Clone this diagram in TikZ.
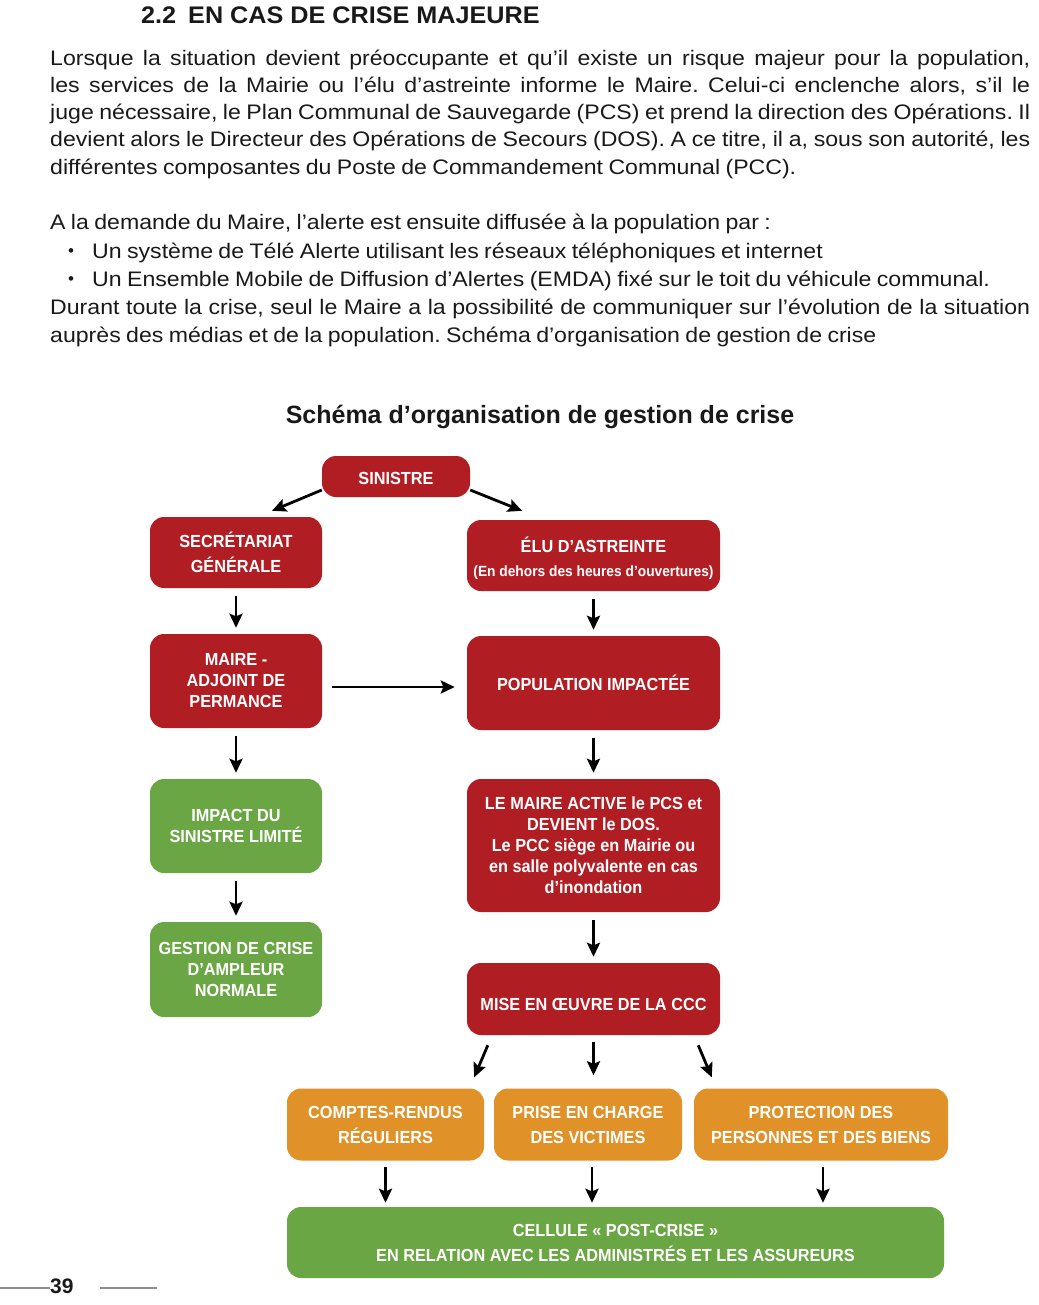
\documentclass[tikz,border=0pt]{standalone}
\usepackage{fontspec}
\setmainfont{Liberation Sans}
\newfontfamily\blkfont{Liberation Sans}[FakeStretch=0.93]
\newfontfamily\txtfont{Liberation Sans}[FakeStretch=1.10, WordSpace=0.84]
\newfontfamily\headfont{Liberation Sans}[FakeStretch=1.05]
\usetikzlibrary{arrows.meta, positioning, calc}
\definecolor{crisered}{RGB}{176,30,36}
\definecolor{crisegreen}{RGB}{106,166,68}
\definecolor{criseorange}{RGB}{224,145,40}
\definecolor{pagegray}{RGB}{140,140,140}
\definecolor{bodytext}{RGB}{25,25,25}
\newcommand{\jline}[1]{\makebox[980pt][s]{#1}}
\frenchspacing

\begin{document}
\begin{tikzpicture}[x=1pt, y=-1pt,
    blk/.style={rounded corners=14pt, text=white, align=center, inner sep=0pt,
                font=\blkfont\bfseries\fontsize{17.5}{21}\selectfont},
    loose/.style={font=\blkfont\bfseries\fontsize{17.5}{25}\selectfont},
    redblk/.style={blk, fill=crisered},
    greenblk/.style={blk, fill=crisegreen},
    orangeblk/.style={blk, fill=criseorange},
    txt/.style={anchor=base west, inner sep=0pt, text=bodytext,
                font=\txtfont\fontsize{21}{27}\selectfont},
    arr/.style={-{Stealth[length=14pt, width=13pt, inset=2.5pt]}, line width=2.8pt,
                shorten <=8pt, shorten >=6pt}
  ]
    \useasboundingbox (0,0) rectangle (1038,1305);

    % texte
    \node[txt, font=\headfont\bfseries\fontsize{24}{28}\selectfont] (head) at (141,24)
      {2.2\hspace{12pt}EN CAS DE CRISE MAJEURE};
    \node[txt] (p1) at (50,66) {\jline{Lorsque la situation devient préoccupante et qu’il existe un risque majeur pour la population,}};
    \node[txt] (p2) at (50,93) {\jline{les services de la Mairie ou l’élu d’astreinte informe le Maire. Celui-ci enclenche alors, s’il le}};
    \node[txt] (p3) at (50,120) {\jline{juge nécessaire, le Plan Communal de Sauvegarde (PCS) et prend la direction des Opérations. Il}};
    \node[txt] (p4) at (50,147) {\jline{devient alors le Directeur des Opérations de Secours (DOS). A ce titre, il a, sous son autorité, les}};
    \node[txt] (p5) at (50,175) {différentes composantes du Poste de Commandement Communal (PCC).};
    \node[txt] (q1) at (50,230) {A la demande du Maire, l’alerte est ensuite diffusée à la population par :};
    \node[txt, font=\fontsize{17}{17}\selectfont] (b1) at (68,257) {•};
    \node[txt] (q2) at (92,259) {Un système de Télé Alerte utilisant les réseaux téléphoniques et internet};
    \node[txt, font=\fontsize{17}{17}\selectfont] (b2) at (68,285) {•};
    \node[txt] (q3) at (92,287) {Un Ensemble Mobile de Diffusion d’Alertes (EMDA) fixé sur le toit du véhicule communal.};
    \node[txt] (q4) at (50,315) {\jline{Durant toute la crise, seul le Maire a la possibilité de communiquer sur l’évolution de la situation}};
    \node[txt] (q5) at (50,342) {auprès des médias et de la population. Schéma d’organisation de gestion de crise};

    \node[txt, anchor=base, font=\bfseries\fontsize{25}{30}\selectfont] (title) at (540,423)
      {Schéma d’organisation de gestion de crise};

    % schema
    \node[redblk, minimum width=148pt, minimum height=41pt] (sinistre) at (396,476.5) {\raisebox{-2pt}[\height][\depth]{SINISTRE}};
    \node[redblk, loose, minimum width=172pt, minimum height=71pt] (secr) at (236,552.5) {SECRÉTARIAT\\GÉNÉRALE};
    \node[redblk, minimum width=253pt, minimum height=71pt] (elu) at (593.5,555.5)
      {\raisebox{-3pt}[\height][\depth]{ÉLU D’ASTREINTE}\\[3pt]{\fontsize{14.8}{16}\selectfont\raisebox{-3pt}[\height][\depth]{(En dehors des heures d’ouvertures)}}};
    \node[redblk, minimum width=172pt, minimum height=94pt] (maire) at (236,681) {MAIRE -\\ADJOINT DE\\PERMANCE};
    \node[redblk, minimum width=253pt, minimum height=94pt] (popu) at (593.5,683) {POPULATION IMPACTÉE};
    \node[greenblk, minimum width=172pt, minimum height=94pt] (impact) at (236,826) {IMPACT DU\\SINISTRE LIMITÉ};
    \node[redblk, minimum width=253pt, minimum height=133pt] (active) at (593.5,845.5)
      {LE MAIRE ACTIVE le PCS et\\DEVIENT le DOS.\\Le PCC siège en Mairie ou\\en salle polyvalente en cas\\d’inondation};
    \node[greenblk, minimum width=172pt, minimum height=95pt] (gestion) at (236,969.5) {GESTION DE CRISE\\D’AMPLEUR\\NORMALE};
    \node[redblk, minimum width=253pt, minimum height=72pt] (mise) at (593.5,999) {\raisebox{-5pt}[\height][\depth]{MISE EN ŒUVRE DE LA CCC}};
    \node[orangeblk, loose, minimum width=197pt, minimum height=72pt] (comptes) at (385.5,1124.5) {COMPTES-RENDUS\\RÉGULIERS};
    \node[orangeblk, loose, minimum width=188pt, minimum height=72pt] (prise) at (588,1124.5) {PRISE EN CHARGE\\DES VICTIMES};
    \node[orangeblk, loose, minimum width=254pt, minimum height=72pt] (protect) at (821,1124.5) {PROTECTION DES\\PERSONNES ET DES BIENS};
    \node[greenblk, loose, minimum width=657pt, minimum height=71pt] (cellule) at (615.5,1242.5)
      {CELLULE « POST-CRISE »\\EN RELATION AVEC LES ADMINISTRÉS ET LES ASSUREURS};

    \draw[arr, shorten <=0pt, shorten >=0pt] ($(sinistre.west)+(0,13.5)$) -- ($(secr.north)+(36,-6)$);
    \draw[arr, shorten <=0pt, shorten >=0pt] ($(sinistre.east)+(0,13.5)$) -- ($(elu.north)+(-71.5,-9)$);
    \draw[arr] (secr) -- (maire);
    \draw[arr] (elu) -- (popu);
    \draw[arr, shorten <=10pt, shorten >=12pt] ($(maire.east)+(0,6)$) -- ($(popu.west)+(0,4)$);
    \draw[arr] (maire) -- (impact);
    \draw[arr] (popu) -- (active);
    \draw[arr] (impact) -- (gestion);
    \draw[arr] (active) -- (mise);
    \draw[arr, shorten <=0pt, shorten >=0pt] ($(mise.south west)+(21,10)$) -- ($(comptes.north east)+(-10,-11)$);
    \draw[arr, shorten <=7pt, shorten >=13pt] (mise.south) -- (mise.south |- prise.north);
    \draw[arr, shorten <=0pt, shorten >=0pt] ($(mise.south east)+(-22,10)$) -- ($(protect.north west)+(18,-11)$);
    \draw[arr, shorten <=6pt, shorten >=4pt] (comptes.south) -- (comptes.south |- cellule.north);
    \draw[arr, shorten <=6pt, shorten >=4pt] ($(prise.south)+(4,0)$) -- ($(prise.south |- cellule.north)+(4,0)$);
    \draw[arr, shorten <=6pt, shorten >=4pt] ($(protect.south)+(2,0)$) -- ($(protect.south |- cellule.north)+(2,0)$);

    % pied de page
    \node[txt, font=\bfseries\fontsize{21}{21}\selectfont] (num) at (50,1293) {39};
    \draw[pagegray, line width=1.5pt] (0,1288) -- (50,1288) (100,1288) -- (157,1288);
\end{tikzpicture}
\end{document}
